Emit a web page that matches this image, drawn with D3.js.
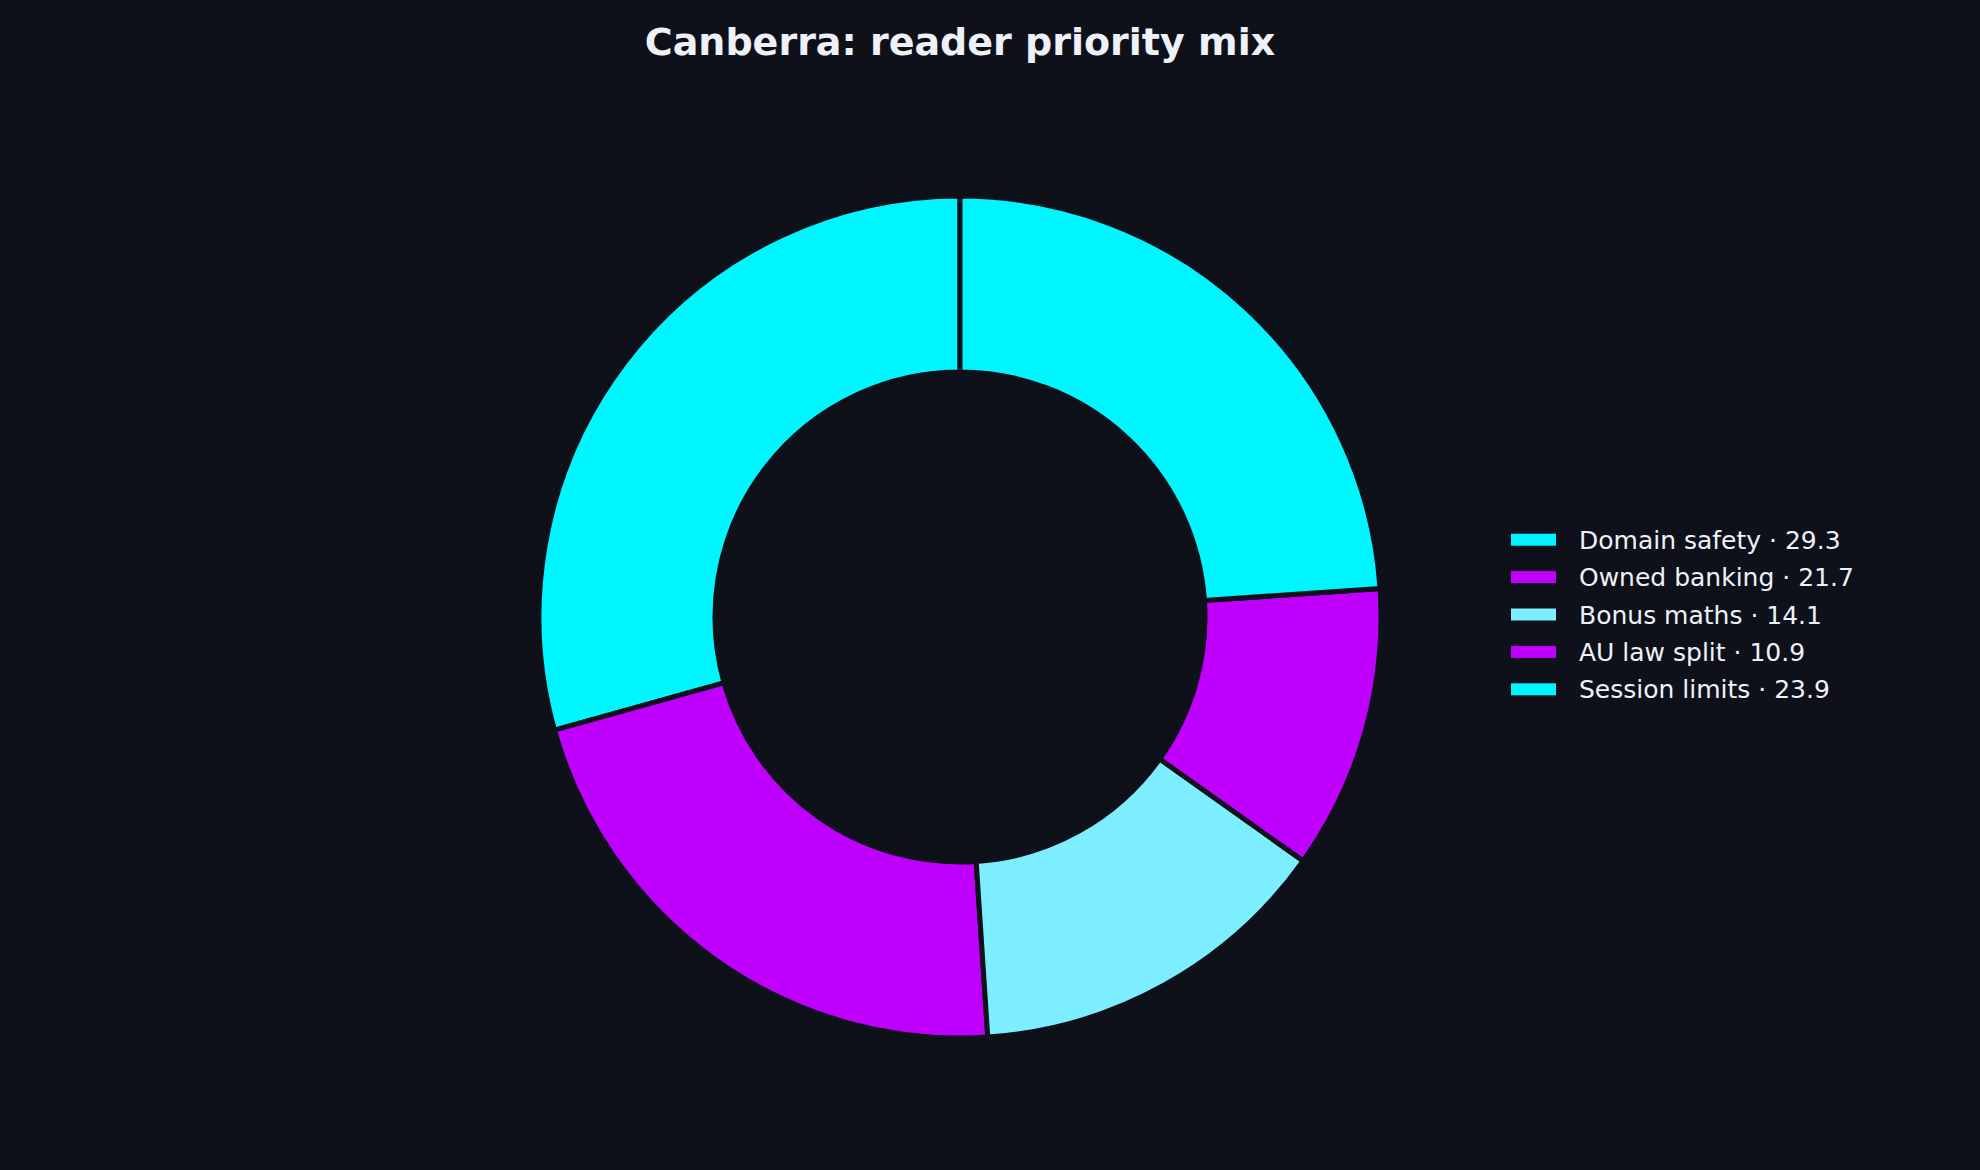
<!DOCTYPE html>
<html>
<head>
<meta charset="utf-8">
<script src="https://cdn.jsdelivr.net/npm/d3@7"></script>
<style>
  html, body { margin: 0; padding: 0; background: #0e101a; }
  svg { display: block; }
</style>
</head>
<body>
<div id="chart"></div>
<script>
const categories = ["Domain safety", "Owned banking", "Bonus maths", "AU law split", "Session limits"];
const values = [29.3, 21.7, 14.1, 10.9, 23.9];
const colors = ["#00f6ff", "#bf00ff", "#7deeff", "#bf00ff", "#00f6ff"];
const title = "Canberra: reader priority mix";

const width = 1980, height = 1170;
const bg = "#0e101a";
const textColor = "#eef2f8";

const cx = 960, cy = 617;
const outerR = 421, innerR = 245;

const svg = d3.select("div#chart")
  .append("svg")
  .attr("width", width)
  .attr("height", height);

svg.append("rect")
  .attr("width", width)
  .attr("height", height)
  .attr("fill", bg);

svg.append("text")
  .attr("x", cx)
  .attr("y", 55)
  .attr("text-anchor", "middle")
  .attr("fill", textColor)
  .attr("font-family", "DejaVu Sans")
  .attr("font-weight", "bold")
  .attr("font-size", "38px")
  .text(title);

const data = categories.map((c, i) => ({ name: c, value: values[i], color: colors[i] }));

// counterclockwise from 12 o'clock, like matplotlib startangle=90
const pie = d3.pie()
  .value(d => d.value)
  .sort(null)
  .startAngle(0)
  .endAngle(-2 * Math.PI);

const arc = d3.arc()
  .innerRadius(innerR)
  .outerRadius(outerR);

const g = svg.append("g")
  .attr("transform", `translate(${cx},${cy})`);

g.selectAll("path")
  .data(pie(data))
  .enter()
  .append("path")
  .attr("d", arc)
  .attr("fill", d => d.data.color)
  .attr("stroke", bg)
  .attr("stroke-width", 5)
  .attr("stroke-linejoin", "miter");

// legend
const legendY = d3.scaleBand()
  .domain(categories)
  .range([521, 708]);

const legend = svg.append("g");

const rows = legend.selectAll("g.row")
  .data(data)
  .enter()
  .append("g")
  .attr("class", "row")
  .attr("transform", d => `translate(1511,${legendY(d.name) + legendY.bandwidth() / 2})`);

rows.append("rect")
  .attr("x", 0)
  .attr("y", -6)
  .attr("width", 45)
  .attr("height", 12)
  .attr("fill", d => d.color);

rows.append("text")
  .attr("x", 68)
  .attr("y", 9)
  .attr("fill", textColor)
  .attr("font-family", "DejaVu Sans")
  .attr("font-size", "25px")
  .text(d => `${d.name} · ${d.value.toFixed(1)}`);
</script>
</body>
</html>
